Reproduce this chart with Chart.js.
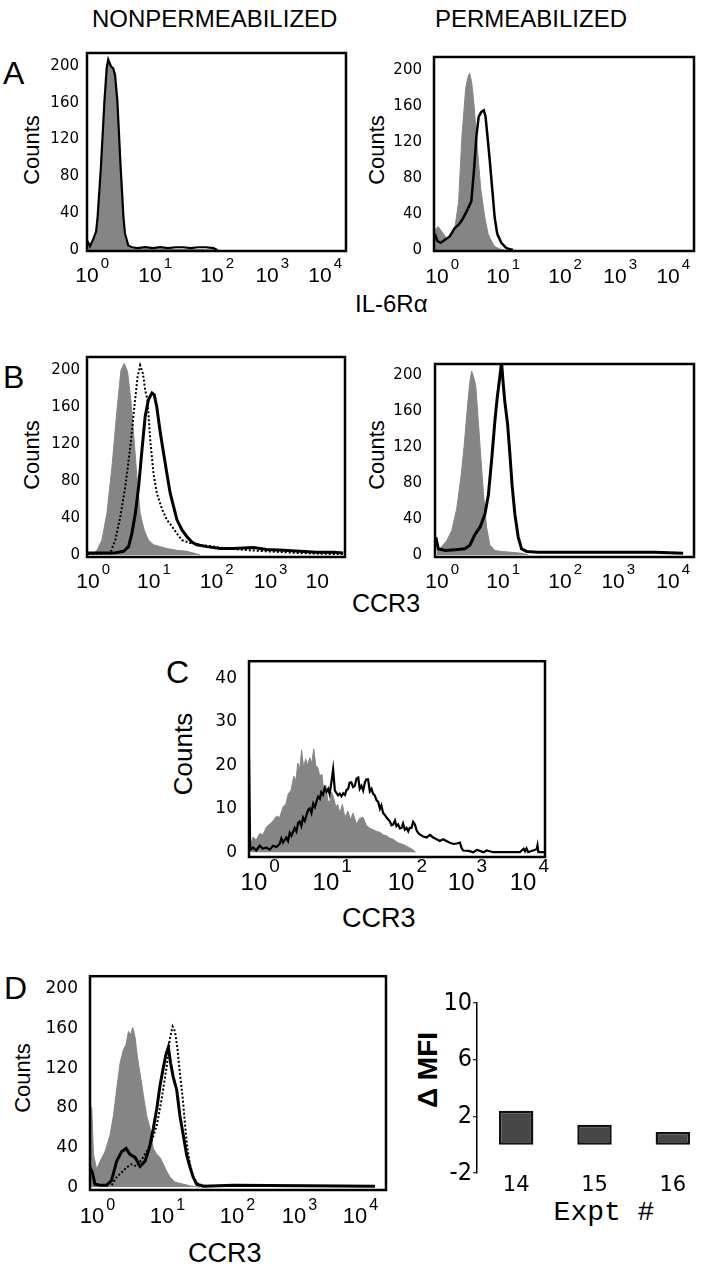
<!DOCTYPE html>
<html>
<head>
<meta charset="utf-8">
<script src="https://cdn.jsdelivr.net/npm/chart.js@4.4.1/dist/chart.umd.min.js"></script>
<style>
  body { margin: 0; background: #fff; width: 715px; height: 1267px; position: relative; overflow: hidden;
         font-family: 'Liberation Sans', Arial, sans-serif; color: #000; }
  canvas { position: absolute; }
  .t { position: absolute; white-space: nowrap; line-height: 1; }
  .r { position: absolute; white-space: nowrap; line-height: 1; transform: translate(-50%, -50%) rotate(-90deg); }
</style>
</head>
<body>
<script>
// FACS histograms: x in channels (0-1024 over 4 decades), y in counts

const GRAY = '#858585';
const yTicksCounts = [0, 40, 80, 120, 160, 200];
const yTicksC = [0, 10, 20, 30, 40];
const decadeExp = ['0', '1', '2', '3', '4'];
const decadeExpCut = ['0', '1', '2', '3', ''];   // last label is cut in panel B left

// Panel A, nonpermeabilized
const aLeftTickPos = [0, 249, 494, 712, 921];
const aLeftGrayX = [1, 12, 25, 36, 42, 55, 69, 78, 84, 94, 104, 111, 120, 133, 144, 150, 163, 177, 300, 520];
const aLeftGrayY = [8, 3, 9, 16, 32, 86, 158, 196, 204, 198, 194, 186, 156, 84, 30, 12, 3, 1, 1, 0];
const aLeftLineX = [1, 12, 25, 36, 42, 55, 69, 78, 84, 94, 104, 111, 120, 133, 144, 150, 163, 177, 200, 230, 260, 290, 320, 350, 380, 410, 440, 470, 500, 515];
const aLeftLineY = [10, 4, 12, 20, 36, 90, 162, 198, 207, 200, 197, 190, 162, 90, 36, 18, 5, 3, 2, 3, 2, 3, 2, 3, 3, 2, 3, 3, 2, 0];

// Panel A, permeabilized
const aRightTickPos = [12, 252, 496, 713, 922];
const aRightGrayX = [3, 16, 32, 49, 66, 81, 97, 110, 125, 134, 140, 147, 151, 158, 167, 176, 184, 200, 213, 226, 239, 259, 278];
const aRightGrayY = [22, 26, 20, 13, 14, 22, 54, 126, 180, 192, 196, 188, 180, 160, 126, 95, 68, 36, 18, 10, 4, 1, 0];
const aRightLineX = [3, 13, 26, 42, 62, 81, 97, 110, 127, 147, 158, 167, 176, 186, 196, 203, 213, 221, 228, 239, 249, 265, 285, 311];
const aRightLineY = [18, 10, 8, 11, 15, 24, 28, 33, 42, 54, 90, 126, 148, 153, 155, 148, 119, 95, 72, 36, 18, 8, 2, 0];

// Panel B, nonpermeabilized
const bLeftTickPos = [4, 245, 494, 708, 914];
const bLeftGrayX = [3, 26, 40, 59, 79, 99, 119, 135, 148, 161, 174, 188, 201, 211, 227, 244, 264, 291, 317, 357, 396, 423, 449];
const bLeftGrayY = [2, 2, 5, 16, 45, 95, 157, 200, 207, 198, 168, 121, 74, 45, 27, 16, 11, 9, 7, 5, 4, 2, 0];
const bLeftDotX = [3, 92, 112, 132, 152, 172, 188, 201, 211, 222, 231, 240, 251, 264, 277, 297, 317, 337, 357, 377, 410, 449, 502, 555, 647, 713, 780, 846, 978, 1017];
const bLeftDotY = [1, 2, 16, 41, 74, 117, 160, 193, 205, 196, 178, 168, 124, 88, 67, 50, 38, 31, 23, 16, 13, 11, 9, 7, 5, 4, 3, 2, 1, 1];
const bLeftLineX = [3, 106, 145, 165, 178, 192, 205, 218, 231, 244, 258, 267, 277, 291, 304, 317, 330, 344, 357, 377, 396, 416, 436, 476, 529, 581, 661, 713, 780, 846, 912, 978, 1017];
const bLeftLineY = [2, 2, 4, 9, 23, 45, 74, 113, 150, 168, 175, 173, 160, 132, 110, 88, 67, 52, 38, 27, 20, 14, 11, 9, 7, 7, 8, 6, 5, 4, 3, 3, 2];

// Panel B, permeabilized
const bRightTickPos = [8, 249, 494, 704, 921];
const bRightGrayX = [7, 26, 46, 66, 86, 103, 116, 129, 138, 145, 153, 161, 171, 182, 192, 204, 217, 237, 263, 303, 342, 369];
const bRightGrayY = [5, 9, 16, 27, 52, 88, 124, 168, 193, 205, 198, 189, 150, 106, 67, 31, 11, 5, 4, 3, 2, 0];
const bRightLineX = [3, 13, 39, 79, 118, 138, 158, 178, 197, 211, 224, 237, 247, 257, 263, 270, 276, 287, 296, 305, 316, 329, 342, 362, 408, 605, 869, 981];
const bRightLineY = [20, 7, 5, 6, 7, 11, 23, 31, 45, 67, 106, 150, 178, 200, 215, 190, 171, 146, 113, 77, 45, 20, 7, 4, 3, 3, 3, 2];

// Panel C
const cTickPos = [17, 266, 526, 734, 948];
const cGrayX = [5, 14, 25, 37, 48, 60, 72, 83, 95, 106, 118, 127, 136, 145, 155, 162, 169, 175, 182, 189, 196, 203, 210, 217, 224, 231, 238, 245, 252, 259, 266, 272, 279, 286, 293, 300, 307, 314, 323, 332, 342, 351, 360, 372, 383, 395, 406, 418, 429, 441, 453, 464, 476, 487, 499, 510, 522, 533, 545, 556, 568, 577];
const cGrayY = [1.5, 3.5, 2.8, 4.3, 4.0, 5.8, 6.5, 7.2, 8.3, 8.0, 10.5, 11.0, 13.5, 14.2, 17.5, 16.5, 20.5, 19.0, 23.5, 19.5, 21.5, 20.0, 21.8, 20.5, 23.8, 20.0, 19.5, 17.5, 18.0, 14.0, 15.5, 12.0, 11.5, 13.8, 12.5, 10.5, 11.0, 9.0, 11.0, 8.0, 9.5, 7.5, 9.0, 6.5, 7.8, 8.0, 6.2, 5.5, 5.2, 4.8, 4.6, 4.0, 3.8, 3.2, 3.0, 2.4, 2.0, 1.8, 1.4, 1.0, 0.5, 0];
const cLineX = [0, 4, 14, 25, 37, 48, 60, 72, 83, 95, 106, 112, 118, 129, 135, 141, 147, 158, 164, 170, 175, 181, 187, 193, 199, 205, 210, 216, 222, 228, 233, 239, 245, 250, 256, 262, 268, 274, 279, 285, 291, 297, 303, 308, 314, 320, 326, 332, 337, 343, 348, 354, 360, 366, 372, 378, 383, 389, 395, 401, 406, 412, 418, 424, 429, 435, 441, 447, 453, 458, 464, 470, 476, 481, 487, 493, 499, 505, 510, 516, 522, 528, 533, 539, 545, 551, 556, 562, 568, 574, 580, 585, 591, 603, 614, 626, 637, 649, 660, 672, 683, 695, 707, 718, 730, 735, 741, 760, 776, 788, 799, 811, 822, 845, 937, 950, 955, 960, 966, 995, 998, 1001, 1024];
const cLineY = [22, 0.5, 1.1, 0.4, 1.5, 0.8, 1.1, 0.6, 1.5, 1.2, 1.9, 3.2, 2.2, 3.4, 2.6, 4.5, 3.8, 5.6, 4.8, 6.8, 7.1, 6.0, 8.0, 7.2, 8.6, 9.8, 10.1, 9.0, 11.2, 10.4, 11.6, 12.8, 12.3, 13.8, 13.2, 14.8, 13.9, 14.6, 13.4, 16.1, 19.1, 14.2, 13.6, 13.1, 13.5, 12.9, 13.6, 13.2, 14.3, 14.6, 16.0, 16.1, 15.0, 15.3, 17.0, 17.2, 14.6, 15.3, 14.2, 16.1, 16.8, 16.8, 14.0, 14.6, 13.5, 13.1, 12.0, 11.6, 10.0, 10.8, 9.0, 8.6, 8.0, 7.6, 7.1, 6.2, 6.4, 7.3, 6.0, 6.4, 5.5, 5.6, 6.6, 5.2, 5.6, 4.8, 5.6, 5.6, 7.0, 6.4, 5.0, 4.5, 4.1, 3.6, 3.4, 4.0, 3.4, 3.0, 2.6, 3.0, 2.6, 2.2, 1.9, 2.0, 2.2, 1.0, 0.4, 0.3, 0, 0.5, 0.3, 0, 0.4, 0, 0, 0.8, 0.2, 0.9, 0, 0.7, 1.6, 0, 0];

// Panel D histogram
const dTickPos = [7, 249, 491, 706, 917];
const dGrayX = [0, 6, 12, 23, 35, 52, 69, 81, 92, 104, 115, 125, 133, 141, 148, 156, 164, 173, 185, 196, 208, 219, 231, 242, 254, 265, 277, 294, 323, 352, 381];
const dGrayY = [82, 80, 33, 18, 26, 36, 52, 72, 98, 125, 138, 144, 157, 154, 161, 151, 131, 115, 92, 72, 59, 39, 33, 30, 23, 16, 10, 5, 3, 1, 0];
const dLineX = [0, 8, 17, 35, 58, 75, 92, 110, 125, 138, 156, 173, 190, 205, 219, 231, 242, 254, 263, 271, 279, 288, 300, 311, 323, 334, 346, 357, 369, 392, 496, 986];
const dLineY = [20, 15, 3, 2, 2, 7, 26, 36, 39, 33, 30, 21, 26, 39, 59, 79, 102, 121, 134, 141, 125, 111, 98, 72, 52, 33, 20, 10, 3, 1, 2, 1];
const dDotX = [75, 92, 110, 127, 144, 161, 179, 196, 213, 231, 248, 265, 277, 286, 294, 302, 311, 321, 329, 337, 346, 357, 375, 404];
const dDotY = [2, 10, 15, 20, 23, 21, 28, 36, 46, 62, 89, 121, 151, 162, 157, 141, 115, 89, 62, 39, 23, 10, 3, 1];

// Panel D bar chart
const exptLabels = ['14', '15', '16'];
const deltaMfi = [2.4, 1.4, 0.9];
const mfiLabelVals = [10, 6, 2, -2];

function addText(str, x, baseline, size, opts) {
    opts = opts || {};
    const el = document.createElement('div');
    el.className = 't';
    el.textContent = str;
    const asc = opts.asc || 0.8465;
    el.style.fontSize = size + 'px';
    if (opts.family) el.style.fontFamily = opts.family;
    if (opts.bold) el.style.fontWeight = 'bold';
    el.style.top = (baseline - asc * size) + 'px';
    el.style.left = x + 'px';
    if (opts.center) el.style.transform = 'translateX(-50%)';
    document.body.appendChild(el);
}

function addRotated(str, cx, cy, size, bold) {
    const el = document.createElement('div');
    el.className = 'r';
    el.textContent = str;
    el.style.fontSize = size + 'px';
    if (bold) el.style.fontWeight = 'bold';
    el.style.left = cx + 'px';
    el.style.top = cy + 'px';
    document.body.appendChild(el);
}

function series(x, y, fill, width, dash, order) {
    return {
        data: x.map((v, i) => ({ x: v, y: y[i] })),
        borderColor: fill ? GRAY : '#000',
        backgroundColor: GRAY,
        borderWidth: fill ? 1 : width,
        borderDash: dash || [],
        fill: fill ? 'origin' : false,
        pointRadius: 0,
        tension: 0,
        order: order
    };
}

function makeHist(p) {
    const yW = 60, xH = 50, padT = 16, padR = 6;
    const cv = document.createElement('canvas');
    cv.width = yW + p.box.w + padR;
    cv.height = padT + p.box.h + xH;
    cv.style.left = (p.box.l - yW) + 'px';
    cv.style.top = (p.box.t - padT) + 'px';
    document.body.appendChild(cv);

    const facsPlugin = {
        id: 'facsFrame',
        afterDraw(chart) {
            const ctx = chart.ctx, a = chart.chartArea, xs = chart.scales.x;
            ctx.save();
            ctx.lineWidth = 2.5;
            ctx.strokeStyle = '#000';
            ctx.strokeRect(a.left, a.top, a.right - a.left, a.bottom - a.top);
            ctx.fillStyle = '#000';
            ctx.textBaseline = 'alphabetic';
            p.xTicks.forEach((pos, i) => {
                const px = xs.getPixelForValue(pos);
                const base = a.bottom + p.xBase;
                ctx.font = p.xFont + 'px "Liberation Sans"';
                ctx.textAlign = 'center';
                ctx.fillText('10', px, base);
                const w = ctx.measureText('10').width;
                ctx.font = p.expFont + 'px "Liberation Sans"';
                ctx.textAlign = 'left';
                ctx.fillText(p.xExp[i], px + w / 2 + 2, base - p.expRaise);
            });
            ctx.restore();
        }
    };

    new Chart(cv, {
        type: 'line',
        data: { datasets: p.series },
        options: {
            responsive: false,
            animation: false,
            devicePixelRatio: 1,
            layout: { padding: { top: padT, right: padR, left: 0, bottom: 0 } },
            plugins: { legend: { display: false }, tooltip: { enabled: false } },
            scales: {
                x: {
                    type: 'linear', min: 0, max: 1024,
                    grid: { display: false, drawTicks: false },
                    border: { display: false },
                    ticks: { display: false },
                    afterFit(s) { s.height = xH; }
                },
                y: {
                    type: 'linear', min: p.yMin, max: p.yMax,
                    grid: { display: false, drawTicks: false },
                    border: { display: false },
                    afterBuildTicks(s) { s.ticks = p.yTicks.map(v => ({ value: v })); },
                    ticks: { color: '#000', padding: p.yPad, font: { family: 'DejaVu Sans', size: p.yFont } },
                    afterFit(s) { s.width = yW; }
                }
            }
        },
        plugins: [facsPlugin]
    });
}

// Headers and labels
addText('NONPERMEABILIZED', 92, 27, 24);
addText('PERMEABILIZED', 531, 27, 24, { center: true });
addText('A', 3, 84, 32);
addText('B', 3, 388, 32);
addText('C', 166, 683, 32);
addText('D', 4, 999, 32);
addText('IL-6R\u03b1', 355, 312, 24);
addText('CCR3', 352, 612, 25);
addText('CCR3', 342, 928, 27);
addText('CCR3', 188, 1263, 27);
addRotated('Counts', 32, 150, 22);
addRotated('Counts', 377, 150, 22);
addRotated('Counts', 32, 455, 22);
addRotated('Counts', 377, 455, 22);
addRotated('Counts', 183, 754, 26);
addRotated('Counts', 23, 1078, 22);
addRotated('\u0394 MFI', 428, 1070, 28, true);
addText('Expt #', 604, 1220, 28, { center: true, family: "'Liberation Mono', 'DejaVu Sans Mono', monospace", asc: 0.7665 });

makeHist({
    box: { l: 87, t: 52, w: 259, h: 199 }, yMin: -1.1, yMax: 214, yTicks: yTicksCounts, yPad: 8, yFont: 15,
    xTicks: aLeftTickPos, xExp: decadeExp, xBase: 31, xFont: 21, expFont: 15, expRaise: 14,
    series: [series(aLeftGrayX, aLeftGrayY, true, 1, null, 3), series(aLeftLineX, aLeftLineY, false, 2.2, null, 1)]
});
makeHist({
    box: { l: 434, t: 52, w: 260, h: 199 }, yMin: -1.1, yMax: 214, yTicks: yTicksCounts, yPad: 12, yFont: 15,
    xTicks: aRightTickPos, xExp: decadeExp, xBase: 32, xFont: 21, expFont: 15, expRaise: 14,
    series: [series(aRightGrayX, aRightGrayY, true, 1, null, 3), series(aRightLineX, aRightLineY, false, 2.5, null, 1)]
});
makeHist({
    box: { l: 87, t: 357, w: 258, h: 200 }, yMin: -2.2, yMax: 214, yTicks: yTicksCounts, yPad: 7, yFont: 15,
    xTicks: bLeftTickPos, xExp: decadeExpCut, xBase: 31, xFont: 21, expFont: 15, expRaise: 14,
    series: [series(bLeftGrayX, bLeftGrayY, true, 1, null, 3),
             series(bLeftDotX, bLeftDotY, false, 2, [2, 2], 2),
             series(bLeftLineX, bLeftLineY, false, 3, null, 1)]
});
makeHist({
    box: { l: 435, t: 358, w: 259, h: 199 }, yMin: -2.2, yMax: 212.9, yTicks: yTicksCounts, yPad: 13, yFont: 15,
    xTicks: bRightTickPos, xExp: decadeExp, xBase: 31, xFont: 21, expFont: 15, expRaise: 14,
    series: [series(bRightGrayX, bRightGrayY, true, 1, null, 3), series(bRightLineX, bRightLineY, false, 3, null, 1)]
});
makeHist({
    box: { l: 249, t: 655, w: 296, h: 202 }, yMin: -1.1, yMax: 44, yTicks: yTicksC, yPad: 12, yFont: 17,
    xTicks: cTickPos, xExp: decadeExp, xBase: 33, xFont: 24, expFont: 19, expRaise: 18,
    series: [series(cGrayX, cGrayY, true, 1, null, 3), series(cLineX, cLineY, false, 2.2, null, 1)]
});
makeHist({
    box: { l: 90, t: 970, w: 296, h: 220 }, yMin: -2.9, yMax: 212.7, yTicks: yTicksCounts, yPad: 12, yFont: 17,
    xTicks: dTickPos, xExp: decadeExp, xBase: 33, xFont: 22, expFont: 16, expRaise: 13,
    series: [series(dGrayX, dGrayY, true, 1, null, 3),
             series(dDotX, dDotY, false, 2, [2, 2], 2),
             series(dLineX, dLineY, false, 3, null, 1)]
});

// Delta MFI bar chart
(function () {
    const yW = 60, xH = 34, padT = 16, padR = 3;
    const cv = document.createElement('canvas');
    cv.width = yW + 235 + padR;
    cv.height = padT + 170 + xH;
    cv.style.left = (477 - yW) + 'px';
    cv.style.top = (1003 - padT) + 'px';
    document.body.appendChild(cv);
    const narrow = "'Liberation Sans Narrow', 'DejaVu Sans Condensed', sans-serif";
    new Chart(cv, {
        type: 'bar',
        data: {
            labels: exptLabels,
            datasets: [{
                data: deltaMfi,
                backgroundColor: '#474747',
                borderColor: '#111',
                borderWidth: 2.5,
                borderSkipped: false,
                barPercentage: 0.44,
                categoryPercentage: 1
            }]
        },
        options: {
            responsive: false,
            animation: false,
            devicePixelRatio: 1,
            layout: { padding: { top: padT, right: padR, left: 0, bottom: 0 } },
            plugins: { legend: { display: false }, tooltip: { enabled: false } },
            scales: {
                x: {
                    grid: { display: false, drawTicks: false },
                    border: { display: false },
                    ticks: { color: '#000', padding: 0, font: { family: 'DejaVu Sans', size: 21 } },
                    afterFit(s) { s.height = xH; }
                },
                y: {
                    min: -2, max: 10,
                    ticks: {
                        stepSize: 2, color: '#000', padding: 1,
                        font: { family: narrow, size: 25 },
                        callback: v => mfiLabelVals.includes(v) ? String(v) : ''
                    },
                    grid: {
                        color: c => (c.tick && c.tick.value === 0) ? '#000' : 'rgba(0,0,0,0)',
                        lineWidth: 1.5,
                        tickColor: '#000',
                        tickWidth: 1,
                        tickLength: 4,
                        drawTicks: true
                    },
                    border: { display: true, color: '#000', width: 1.5 },
                    afterFit(s) { s.width = yW; }
                }
            }
        }
    });
})();
</script>
</body>
</html>
